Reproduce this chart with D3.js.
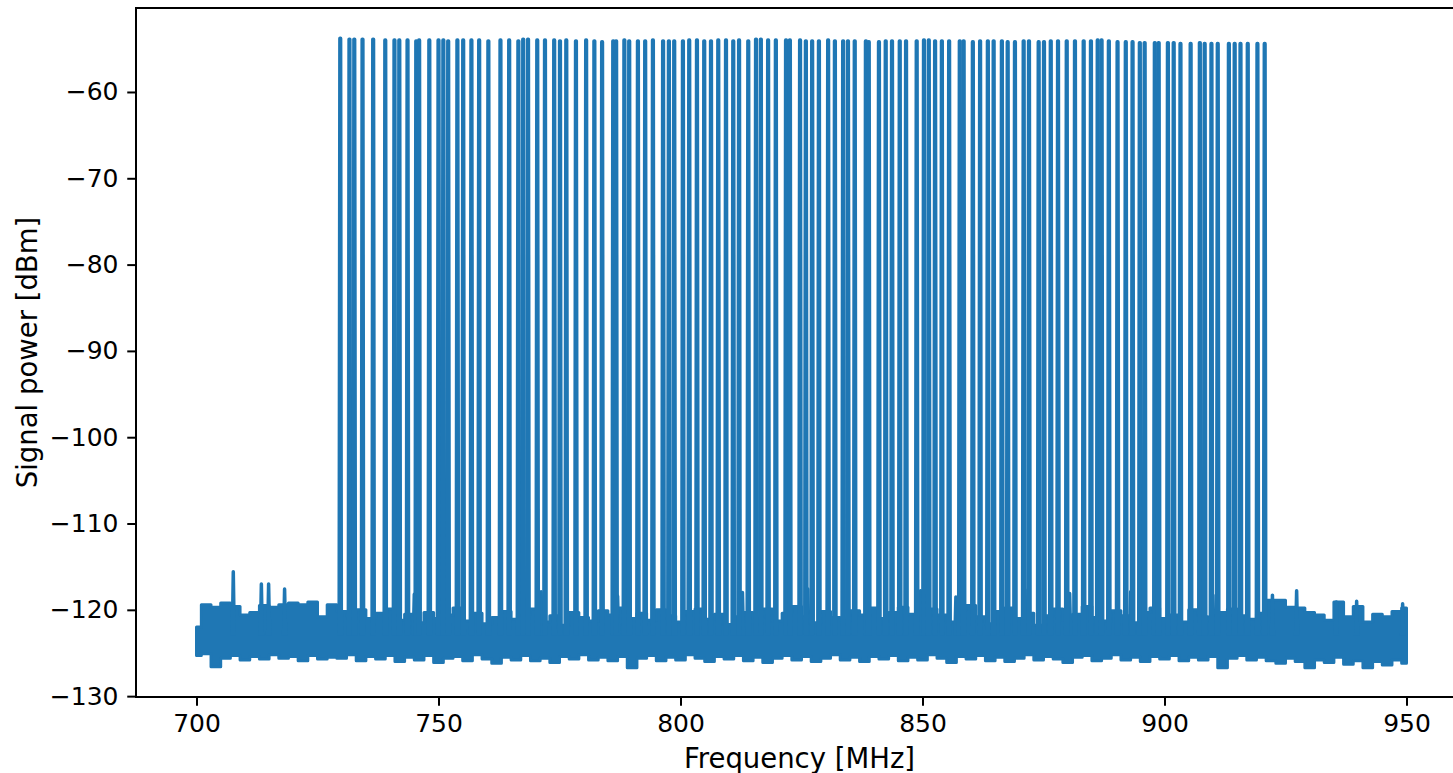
<!DOCTYPE html>
<html>
<head>
<meta charset="utf-8">
<script src="https://cdn.jsdelivr.net/npm/d3@7"></script>
<style>
body { margin: 0; background: #fff; }
svg { display: block; }
</style>
</head>
<body>
<svg id="svg"></svg>
<script>
let svg = d3.select("#svg");

const width = 1453;
const height = 773;

// noise floor envelope, one reading every 2 MHz from 700 to 950 MHz (dBm)
const noiseStart = 700;
const noiseStep = 2;
const noiseHigh = [
    -122.0, -119.4, -119.7, -119.2, -119.6, -120.6, -120.3, -119.5, -119.7, -119.4,
    -119.2, -119.4, -119.1, -120.8, -119.4,
    -120.2, -120.8, -120.0, -121.0, -120.4, -119.9, -121.2, -120.5, -121.5, -120.3,
    -121.0, -120.6, -119.8, -121.3, -120.4, -121.6, -120.9, -120.2, -121.1, -120.5,
    -119.9, -121.4, -120.7, -121.8, -120.3, -120.9, -121.3, -120.1, -120.6, -119.8,
    -121.0, -120.4, -121.2, -120.0, -120.7, -121.4, -120.2, -119.9, -121.1, -120.5,
    -121.7, -120.8, -120.3, -121.0, -119.9, -121.3, -120.4, -119.6, -120.8, -121.5,
    -120.2, -120.9, -121.2, -120.1, -120.6, -119.8, -121.0, -120.3, -119.7, -120.5,
    -121.1, -119.9, -120.6, -121.4, -120.0, -119.5, -120.8, -121.6, -120.2, -119.8,
    -121.0, -120.4, -121.8, -120.7, -119.9, -121.2, -120.5, -119.6, -120.9, -121.3,
    -120.1, -120.7, -121.5, -120.3, -119.8, -121.0, -120.6, -121.4, -120.0, -120.8,
    -121.2, -120.3, -119.9, -120.7, -121.1, -120.4,
    -118.9, -118.9, -119.7, -119.8, -120.3, -120.6, -121.2, -119.1, -120.8, -119.6,
    -121.4, -120.5, -120.8, -120.2, -119.8
];
const noiseLow = [
    -125.3, -125.1, -126.6, -125.6, -125.3, -125.8, -125.4, -125.7, -125.2, -125.6,
    -125.4, -125.9, -125.3, -125.7, -125.5,
    -125.6, -125.2, -125.9, -125.4, -125.7, -125.3, -126.0, -125.5, -125.8, -125.3,
    -126.1, -125.6, -125.4, -125.9, -125.2, -125.7, -126.2, -125.5, -125.8, -125.3,
    -125.9, -125.6, -126.1, -125.4, -125.7, -125.2, -125.8, -125.5, -125.9, -125.4,
    -126.7, -125.6, -125.3, -125.9, -125.5, -125.8, -125.2, -125.6, -126.0, -125.4,
    -125.7, -125.3, -125.9, -125.5, -126.1, -125.6, -125.3, -125.8, -125.4, -126.0,
    -125.6, -125.2, -125.8, -125.5, -126.0, -125.4, -125.7, -125.3, -125.9, -125.5,
    -125.8, -125.2, -125.6, -126.1, -125.4, -125.7, -125.3, -125.9, -125.5, -126.0,
    -125.6, -125.2, -125.8, -125.4, -125.7, -126.1, -125.5, -125.3, -125.9, -125.6,
    -125.2, -125.8, -125.5, -126.0, -125.4, -125.7, -125.3, -125.9, -125.5, -125.8,
    -125.4, -126.7, -125.6, -125.3, -125.8, -125.5,
    -125.9, -126.2, -125.6, -126.0, -126.7, -125.8, -126.1, -125.5, -126.3, -125.9,
    -126.7, -126.0, -126.4, -125.8, -126.2
];

// carriers: frequency (MHz) and peak power (dBm)
const spikeFreq = [
    729.7, 731.6, 732.6, 734.3, 736.5, 739.0, 740.9, 741.9, 743.6, 745.4,
    746.0, 748.1, 750.0, 751.0, 752.0, 753.9, 755.1, 756.8, 758.4, 760.3,
    762.8, 764.6, 766.5, 767.5, 768.5, 770.4, 772.0, 773.9, 775.1, 776.4,
    778.4, 780.5, 782.2, 783.8, 786.1, 786.7, 788.4, 789.4, 791.2, 792.7,
    794.3, 796.4, 797.6, 798.7, 800.5, 801.8, 803.4, 804.9, 806.3, 807.8,
    809.4, 810.9, 812.1, 814.0, 815.6, 816.6, 818.1, 819.7, 821.8, 822.6,
    824.7, 825.9, 827.2, 828.6, 830.5, 831.9, 833.6, 834.6, 836.0, 838.3,
    838.9, 841.0, 842.4, 843.7, 845.3, 846.6, 848.8, 850.3, 851.3, 852.6,
    854.0, 855.5,
    857.7, 858.5, 860.4, 861.9, 863.5, 864.7, 866.4, 867.6, 869.1, 870.9,
    872.0, 874.0, 875.1, 876.5, 878.0, 879.8, 881.5, 883.3, 884.8, 886.2,
    887.0, 888.5,
    890.3, 892.0, 893.4, 894.9, 895.9, 898.0, 898.8, 900.7, 901.9, 903.3,
    905.4, 907.3, 908.3, 909.7, 911.0, 913.3, 914.5, 915.7, 917.2, 919.2,
    920.7
];
const spikePeak = [
    -53.8, -53.9, -53.9, -53.9, -53.9, -54.0, -54.0, -54.0, -54.0, -54.1,
    -54.0, -54.0, -54.0, -54.0, -54.1, -54.0, -54.0, -54.0, -54.0, -54.1,
    -54.0, -54.0, -54.1, -53.9, -53.9, -54.0, -54.0, -54.0, -54.1, -54.0,
    -54.1, -54.0, -54.1, -54.2, -54.1, -54.1, -54.0, -54.1, -54.1, -54.1,
    -54.0, -54.1, -54.1, -54.1, -54.1, -54.0, -54.0, -54.1, -54.1, -54.0,
    -54.0, -54.1, -54.0, -54.1, -53.9, -53.9, -54.0, -54.0, -54.0, -54.0,
    -54.0, -54.1, -54.1, -54.1, -54.0, -54.1, -54.1, -54.1, -54.1, -54.1,
    -54.2, -54.2, -54.1, -54.1, -54.1, -54.1, -54.1, -54.0, -54.0, -54.1,
    -54.1, -54.1,
    -54.1, -54.1, -54.2, -54.1, -54.1, -54.1, -54.1, -54.2, -54.2, -54.1,
    -54.1, -54.2, -54.2, -54.1, -54.1, -54.1, -54.1, -54.1, -54.1, -54.0,
    -54.0, -54.1,
    -54.2, -54.2, -54.2, -54.3, -54.3, -54.3, -54.3, -54.3, -54.3, -54.4,
    -54.4, -54.3, -54.4, -54.4, -54.4, -54.4, -54.4, -54.4, -54.4, -54.4,
    -54.4
];

// isolated noise bumps sticking out of the floor
const bumpFreq = [707.6, 713.4, 714.9, 718.2, 745.0, 771.2, 787.0, 812.8, 826.3, 849.6,
    856.9, 871.8, 880.4, 893.0, 910.0, 922.3, 927.3, 935.5, 939.7, 949.2];
const bumpPeak = [-115.6, -117.0, -117.0, -117.6, -118.2, -117.9, -118.4, -118.0, -117.6, -117.8,
    -118.5, -117.7, -118.1, -117.9, -118.3, -118.3, -117.8, -119.1, -119.0, -119.3];

const xTicks = [700, 750, 800, 850, 900, 950];
const yTicks = [-130, -120, -110, -100, -90, -80, -70, -60];

const lineColor = "#1f77b4";
const font = "DejaVu Sans";

// axes box (right spine falls just outside the window, as in the screenshot)
const plotLeft = 136;
const plotRight = 1467;
const plotTop = 8;
const plotBottom = 697;

function drawChart() {
    svg.attr("width", width).attr("height", height);
    svg.selectAll("*").remove();

    let x = d3.scaleLinear().domain([687.5, 962.5]).range([plotLeft, plotRight]);
    let y = d3.scaleLinear().domain([-130.1, -50.27]).range([plotBottom, plotTop]);

    svg.append("defs").append("clipPath").attr("id", "clip")
        .append("rect")
        .attr("x", plotLeft).attr("y", plotTop)
        .attr("width", plotRight - plotLeft).attr("height", plotBottom - plotTop);

    let plot = svg.append("g").attr("clip-path", "url(#clip)");

    // noise floor as a filled band
    let n = Math.min(noiseHigh.length, noiseLow.length);
    let noise = d3.range(n).map(i => ({
        f: noiseStart + i * noiseStep,
        hi: noiseHigh[i],
        lo: noiseLow[i]
    }));

    let band = d3.area()
        .x(d => x(d.f))
        .y0(d => y(d.lo))
        .y1(d => y(d.hi))
        .curve(d3.curveStep);

    plot.append("path")
        .datum(noise)
        .attr("d", band)
        .attr("fill", lineColor)
        .attr("stroke", lineColor)
        .attr("stroke-width", 3)
        .attr("stroke-linejoin", "round");

    // small bumps above the floor
    let bumps = bumpFreq.map((f, i) => ({ f: f, peak: bumpPeak[i] }));
    plot.selectAll("path.bump")
        .data(bumps)
        .join("path")
        .attr("class", "bump")
        .attr("d", d => "M" + x(d.f - 0.2) + "," + y(-123) +
            "L" + x(d.f) + "," + y(d.peak) +
            "L" + x(d.f + 0.2) + "," + y(-123))
        .attr("fill", "none")
        .attr("stroke", lineColor)
        .attr("stroke-width", 3.5)
        .attr("stroke-linejoin", "round");

    // carriers
    let spikes = spikeFreq.map((f, i) => ({ f: f, peak: spikePeak[i] }));
    plot.selectAll("path.spike")
        .data(spikes)
        .join("path")
        .attr("class", "spike")
        .attr("d", d => "M" + x(d.f - 0.2) + "," + y(-123) +
            "L" + x(d.f - 0.05) + "," + y(d.peak) +
            "L" + x(d.f + 0.05) + "," + y(d.peak) +
            "L" + x(d.f + 0.2) + "," + y(-123))
        .attr("fill", "none")
        .attr("stroke", lineColor)
        .attr("stroke-width", 3.75)
        .attr("stroke-linejoin", "round");

    // axes
    let xAxis = svg.append("g")
        .attr("transform", "translate(0," + plotBottom + ")")
        .call(d3.axisBottom(x).tickValues(xTicks).tickSize(8.75).tickPadding(8.75).tickSizeOuter(0));

    let yAxis = svg.append("g")
        .attr("transform", "translate(" + plotLeft + ",0)")
        .call(d3.axisLeft(y).tickValues(yTicks).tickSize(8.75).tickPadding(8.75).tickSizeOuter(0));

    for (let ax of [xAxis, yAxis]) {
        ax.select(".domain").remove();
        ax.selectAll(".tick line").attr("stroke", "#000").attr("stroke-width", 2);
        ax.selectAll(".tick text")
            .attr("fill", "#000")
            .style("font-family", font)
            .style("font-size", "25px");
    }

    // spines
    svg.append("rect")
        .attr("x", plotLeft).attr("y", plotTop)
        .attr("width", plotRight - plotLeft).attr("height", plotBottom - plotTop)
        .attr("fill", "none")
        .attr("stroke", "#000")
        .attr("stroke-width", 2);

    // axis labels
    svg.append("text")
        .attr("x", (plotLeft + plotRight) / 2 - 2)
        .attr("y", 768)
        .attr("text-anchor", "middle")
        .style("font-family", font)
        .style("font-size", "27.5px")
        .text("Frequency [MHz]");

    svg.append("text")
        .attr("transform", "translate(37," + ((plotTop + plotBottom) / 2) + ") rotate(-90)")
        .attr("text-anchor", "middle")
        .style("font-family", font)
        .style("font-size", "27.5px")
        .text("Signal power [dBm]");
}

drawChart();
</script>
</body>
</html>
